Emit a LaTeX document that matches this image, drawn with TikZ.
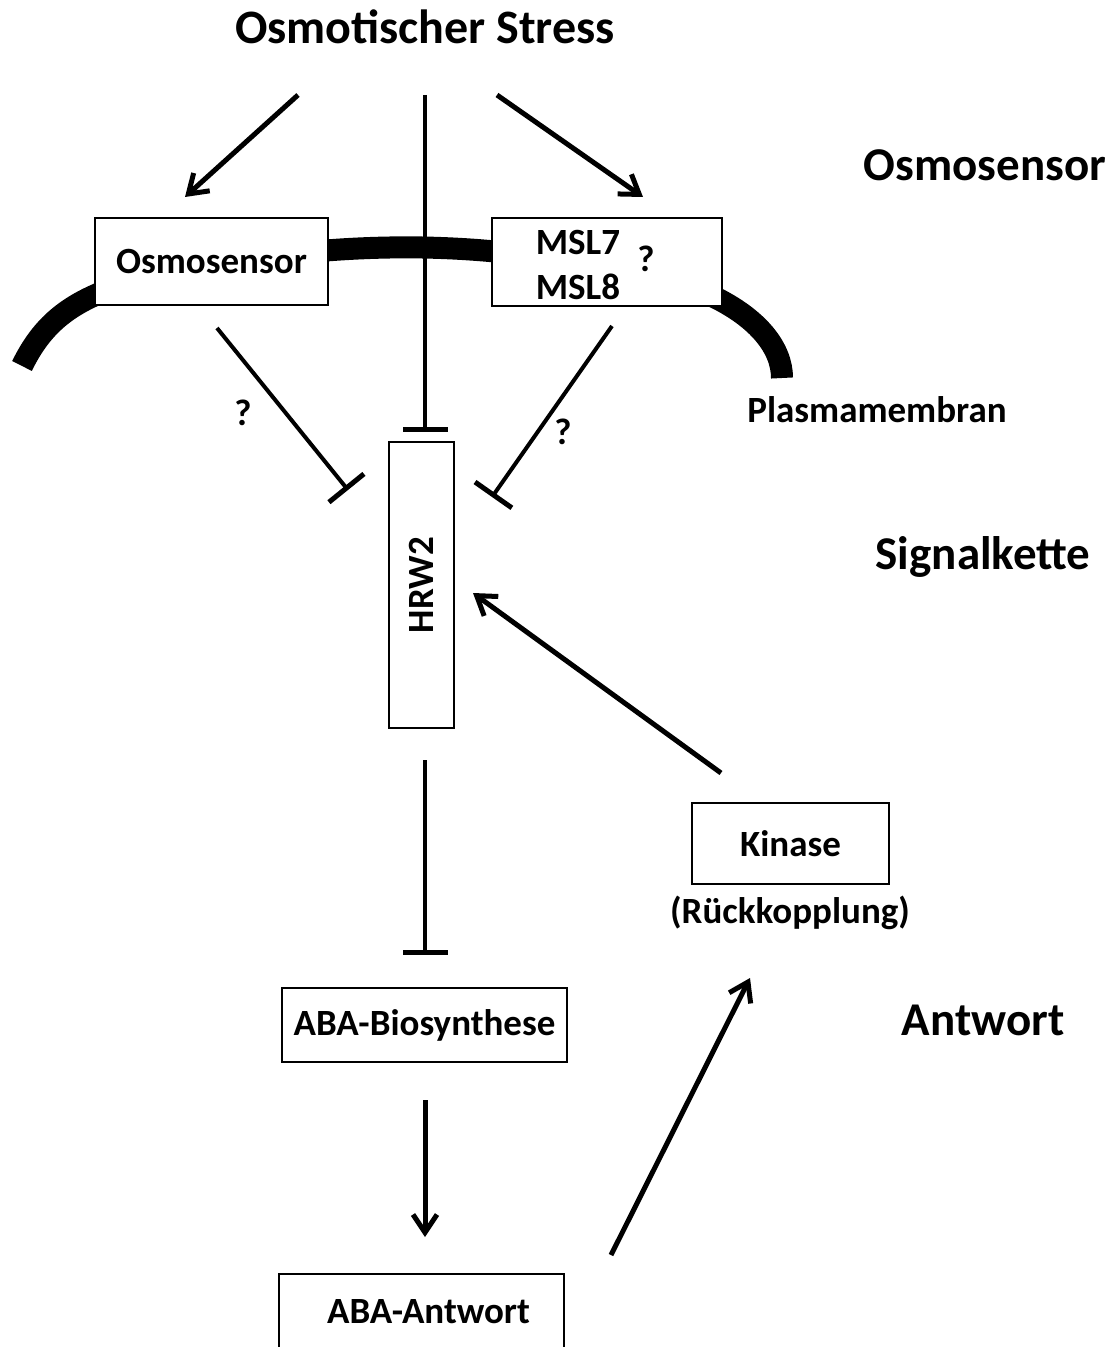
\documentclass[tikz,border=0pt]{standalone}
\usepackage{fontspec}
\setmainfont{Carlito}
\usetikzlibrary{arrows.meta,positioning}

\begin{document}
\begin{tikzpicture}[x=0.5pt, y=-0.5pt,
  box/.style={draw, line width=1pt, fill=white, inner sep=0pt, align=center, font=\fontsize{18.5}{22.5}\selectfont\bfseries},
  lbl/.style={inner sep=0pt, align=center, font=\fontsize{18.5}{22.5}\selectfont\bfseries},
  head/.style={inner sep=0pt, font=\fontsize{23.5}{28}\selectfont\bfseries},
  act/.style={line width=2.5pt, -{Straight Barb[length=9pt, width=12pt]}},
  inh/.style={line width=2pt, -{Bar[width=22.5pt, line width=2.5pt]}},
  membran/.style={line width=11pt}
]
\clip (0,0) rectangle (1110,1347);

% membrane
\draw[membran] (22,366) .. controls (42,325) and (68,305) .. (110,289);
\draw[membran] (320,251) .. controls (380,246) and (440,246) .. (500,252);
\draw[membran] (712,296) .. controls (758,318) and (782,348) .. (782,378);

% nodes
\node[head, font=\fontsize{24}{28}\selectfont\bfseries] (stress) at (425,27) {Osmotischer Stress};
\node[box, minimum width=116.5pt, minimum height=43.5pt] (osmo) at (211.5,261.5) {Osmosensor};
\node[box, minimum width=115pt, minimum height=44pt] (msl) at (607,262) {};
\node[lbl] (msltext) at (578,265) {MSL7\\MSL8};
\node[lbl] (mslq) at (646,259) {?};
\node[box, minimum width=32.5pt, minimum height=143pt] (hrw) at (421.5,585) {\rotatebox{90}{HRW2}};
\node[box, minimum width=142.5pt, minimum height=37pt] (bio) at (424.5,1025) {ABA-Biosynthese};
\node[box, minimum width=142.5pt, minimum height=38pt] (antwort) at (421.5,1312) {\hspace*{7pt}ABA-Antwort};
\node[box, minimum width=98.5pt, minimum height=40.5pt] (kinase) at (790.5,843.5) {Kinase};
\node[lbl] (rueck) at (790,913) {(Rückkopplung)};
\node[lbl] (osmoq) at (243,413) {?};
\node[lbl] (msliq) at (563,432) {?};

% level labels
\node[head] (lvosmo) at (985,165) {Osmosensor};
\node[lbl] (lvpm) at (877,410) {Plasmamembran};
\node[head] (lvsig) at (983,557) {Signalkette};
\node[head] (lvant) at (983,1020) {Antwort};

% connector ends
\coordinate (s1) at (298,95);
\coordinate (s2) at (425,95);
\coordinate (s3) at (497,95);
\coordinate (osmo-in) at (185,197);
\coordinate (msl-in) at (643,197);
\coordinate (hrw-top) at (425,432);
\coordinate (osmo-out) at (217,328);
\coordinate (hrw-left) at (348,490);
\coordinate (msl-out) at (612,326);
\coordinate (hrw-right) at (492,497);
\coordinate (hrw-out) at (425,760);
\coordinate (bio-in) at (425,955);
\coordinate (bio-out) at (425,1100);
\coordinate (antwort-in) at (425,1237);
\coordinate (antwort-out) at (611,1255);
\coordinate (kinase-in) at (750,978);
\coordinate (kinase-out) at (721,773);
\coordinate (hrw-in) at (473,593);

\draw[act] (s1) -- (osmo-in);
\draw[inh] (s2) -- (hrw-top);
\draw[act] (s3) -- (msl-in);
\draw[inh] (osmo-out) -- (hrw-left);
\draw[inh] (msl-out) -- (hrw-right);
\draw[inh] (hrw-out) -- (bio-in);
\draw[act] (bio-out) -- (antwort-in);
\draw[act] (antwort-out) -- (kinase-in);
\draw[act] (kinase-out) -- (hrw-in);
\end{tikzpicture}
\end{document}
